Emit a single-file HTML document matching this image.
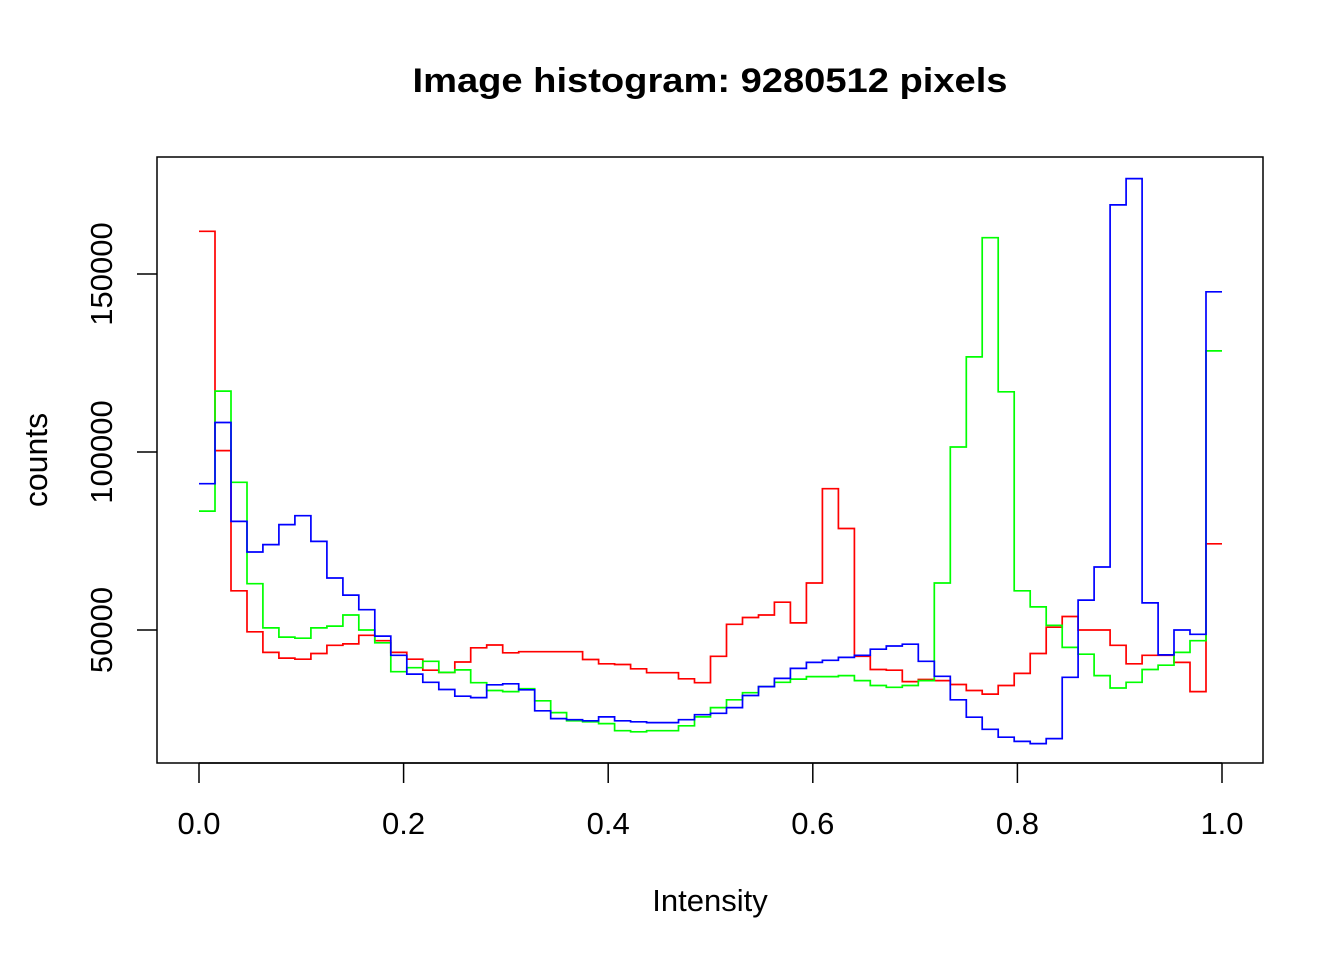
<!DOCTYPE html>
<html><head><meta charset="utf-8"><style>
body{margin:0;background:#fff;}
svg text{font-family:"Liberation Sans",Arial,sans-serif;}
</style></head><body>
<svg id="chart" width="1344" height="960" xmlns="http://www.w3.org/2000/svg">
<rect width="1344" height="960" fill="#fff"/>
<text x="710" y="92" text-anchor="middle" font-size="34" font-weight="bold" textLength="595" lengthAdjust="spacingAndGlyphs">Image histogram: 9280512 pixels</text>
<rect x="157" y="157" width="1106" height="606" fill="none" stroke="#000" stroke-width="1.5"/>
<text x="710" y="911" text-anchor="middle" font-size="31">Intensity</text>
<text transform="translate(47,460) rotate(-90)" text-anchor="middle" font-size="32">counts</text>
<g id="axes"></g>
<g id="series"></g>
</svg>
<script>
const xTicks=[0,0.2,0.4,0.6,0.8,1.0];
const xTickLabels=["0.0","0.2","0.4","0.6","0.8","1.0"];
const yTicks=[50000,100000,150000];
const yTickLabels=["50000","100000","150000"];
const red=[162000,100400,61000,49500,43700,42100,41800,43400,45700,46100,48500,47000,43700,41800,38700,38100,41000,45000,45800,43600,43900,43900,43900,43900,41700,40500,40300,39100,38000,38000,36300,35200,42600,51600,53500,54200,57800,52000,63200,89700,78500,42600,38900,38700,35500,36100,35800,34700,33000,32000,34400,37800,43400,50800,53800,50000,50000,45700,40500,42900,42900,40900,32700,74200];
const green=[83400,117100,91500,63000,50600,48000,47700,50600,51100,54200,50000,46400,38300,39400,41200,38100,38800,35200,33000,32700,33500,30100,26800,24500,24200,23700,21700,21400,21700,21700,23100,25600,28200,30400,32400,34100,35300,36200,36900,36900,37200,35800,34400,33900,34400,35800,63200,101400,126700,160200,116900,61000,56500,51300,45100,43200,37200,33700,35300,38900,40100,43700,47000,128400];
const blue=[91100,108300,80500,71900,74000,79600,82100,74900,64600,59800,55700,48300,42900,37600,35300,33300,31400,31000,34600,34900,33200,27300,25100,24800,24500,25600,24500,24200,24000,24000,24800,26200,26600,28200,31600,34100,36400,39200,40900,41500,42300,42900,44600,45500,46000,41200,37000,30400,25500,22100,19900,18700,18100,19500,36700,58400,67700,169400,176800,57600,43000,50000,48800,145000];
const X=v=>199+v*1023;
const Y=v=>630-(v-50000)*178/50000;
const NS="http://www.w3.org/2000/svg";
const axes=document.getElementById('axes');
function mk(tag,attrs,parent){const e=document.createElementNS(NS,tag);for(const k in attrs)e.setAttribute(k,attrs[k]);parent.appendChild(e);return e;}
xTicks.forEach((t,i)=>{
  const l=mk('line',{x1:X(t),x2:X(t),y1:763,y2:783,stroke:'#000','stroke-width':1.5},axes);
  
  
  const tx=mk('text',{x:X(t),y:834,'text-anchor':'middle','font-size':31},axes);
  
  
  tx.textContent=xTickLabels[i];
});
const xl=mk('line',{x1:X(0),x2:X(1),y1:763,y2:763,stroke:'#000','stroke-width':1.5},axes);


yTicks.forEach((t,i)=>{
  const l=mk('line',{x1:137,x2:157,y1:Y(t),y2:Y(t),stroke:'#000','stroke-width':1.5},axes);
  
  
  const tx=mk('text',{transform:`translate(112,${Y(t)}) rotate(-90)`,'text-anchor':'middle','font-size':31},axes);
  
  
  tx.textContent=yTickLabels[i];
});
const sg=document.getElementById('series');
function drawSeries(vals,color,name){
  const n=vals.length;let d='';
  for(let i=0;i<n;i++){
    const x0=X(i/n),x1=X((i+1)/n),y=Y(vals[i]);
    d+=(i===0?'M':'L')+x0.toFixed(1)+','+y.toFixed(1)+'L'+x1.toFixed(1)+','+y.toFixed(1);
  }
  const p=mk('path',{d:d,fill:'none',stroke:color,'stroke-width':1.7},sg);
  
  
}
drawSeries(red,'#ff0000','red-series');
drawSeries(green,'#00ff00','green-series');
drawSeries(blue,'#0000ff','blue-series');
</script>
</body></html>
